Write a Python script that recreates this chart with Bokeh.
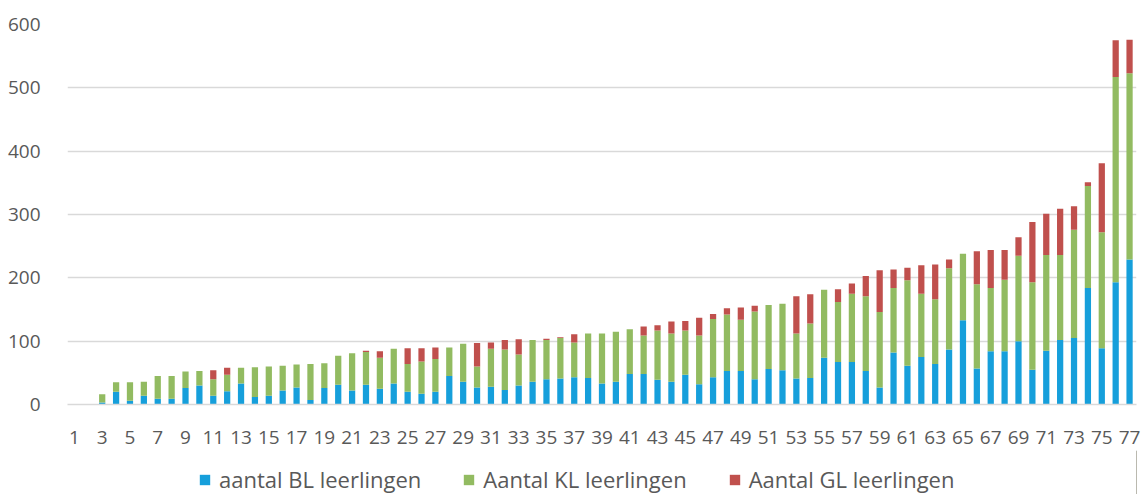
from bokeh.plotting import figure
from bokeh.models import Range1d, FixedTicker, Legend, LegendItem, ColumnDataSource
from bokeh.layouts import column
from bokeh.embed import file_html
from bokeh.resources import INLINE

categories = list(range(1, 78))
bl = [0, 0, 3, 20, 6, 14, 9, 9, 26, 30, 14, 21, 33, 12, 14, 22, 27, 7, 26, 31,
      22, 31, 25, 33, 20, 17, 20, 45, 36, 27, 28, 23, 30, 36, 40, 41, 43, 42, 33, 36,
      48, 48, 39, 36, 47, 32, 43, 53, 53, 40, 56, 54, 41, 42, 74, 67, 67, 53, 27, 82,
      61, 75, 64, 87, 133, 57, 84, 84, 100, 55, 85, 102, 105, 184, 89, 193, 229]
kl = [0, 0, 13, 15, 29, 22, 36, 36, 26, 23, 26, 26, 25, 47, 46, 39, 36, 57, 39, 46,
      59, 52, 49, 55, 44, 51, 52, 45, 60, 33, 60, 64, 49, 66, 62, 64, 55, 70, 79, 79,
      71, 61, 78, 76, 70, 77, 92, 89, 81, 107, 101, 105, 71, 86, 107, 95, 108, 118, 119, 102,
      135, 100, 102, 128, 105, 133, 100, 113, 135, 138, 151, 134, 171, 161, 183, 324, 294]
gl = [0, 0, 0, 0, 0, 0, 0, 0, 0, 0, 14, 11, 0, 0, 0, 0, 0, 0, 0, 0,
      0, 2, 10, 0, 25, 21, 18, 0, 0, 37, 10, 15, 24, 0, 2, 1, 13, 0, 0, 0,
      0, 14, 8, 19, 15, 28, 8, 10, 19, 9, 0, 0, 59, 46, 0, 20, 16, 32, 66, 29,
      20, 45, 55, 14, 0, 52, 60, 47, 29, 95, 65, 73, 37, 6, 109, 58, 53]
series_names = ["aantal BL leerlingen", "Aantal KL leerlingen", "Aantal GL leerlingen"]
colors = ["#169FDB", "#92BB61", "#C0504D"]
y_ticks = [0, 100, 200, 300, 400, 500, 600]
x_ticks = list(range(1, 78, 2))

FONT = "Open Sans"
TXT = "#595959"
W = 1144

p = figure(width=W, height=450, output_backend="svg", toolbar_location=None,
           x_range=Range1d(0.5, 77.5), y_range=Range1d(0, 600),
           min_border_left=67, min_border_right=8, min_border_top=24,
           min_border_bottom=46)
p.outline_line_color = None

data = dict(x=categories, bl=bl, kl=kl, gl=gl)
p.vbar_stack(["bl", "kl", "gl"], x="x", width=0.45, source=data,
             color=colors, line_color=None)

p.xgrid.visible = False
p.ygrid.grid_line_color = "#D9D9D9"
p.ygrid.grid_line_width = 1.5
p.yaxis.ticker = FixedTicker(ticks=y_ticks)
p.xaxis.ticker = FixedTicker(ticks=x_ticks)

for ax in (p.xaxis[0], p.yaxis[0]):
    ax.major_tick_line_color = None
    ax.minor_tick_line_color = None
    ax.major_label_text_font = FONT
    ax.major_label_text_font_size = "19px"
    ax.major_label_text_color = TXT
p.yaxis.axis_line_color = None
p.xaxis.axis_line_color = "#D9D9D9"
p.xaxis.axis_line_width = 1.5
p.yaxis.major_label_standoff = 21
p.xaxis.major_label_standoff = 20

# legend strip below the chart
lf = figure(width=W, height=44, output_backend="svg", toolbar_location=None,
            x_range=Range1d(0, 1), y_range=Range1d(0, 1),
            min_border_left=0, min_border_right=0, min_border_top=0, min_border_bottom=0)
lf.axis.visible = False
lf.grid.visible = False
lf.outline_line_color = None
offscreen = ColumnDataSource(dict(x=[5], top=[5]))
items = []
for n, c in zip(series_names, colors):
    r = lf.vbar(x="x", top="top", width=0.1, source=offscreen, color=c, line_color=None)
    items.append(LegendItem(label=n, renderers=[r]))
legend = Legend(items=items, orientation="horizontal", location=(131, 0),
                label_text_font=FONT, label_text_font_size="22px", label_text_color=TXT,
                glyph_width=13, glyph_height=13, label_standoff=8, spacing=41,
                border_line_color=None, background_fill_alpha=0, padding=0, margin=0)
lf.add_layout(legend, "center")

open("out.html", "w").write(file_html(column(p, lf, spacing=0), INLINE))
